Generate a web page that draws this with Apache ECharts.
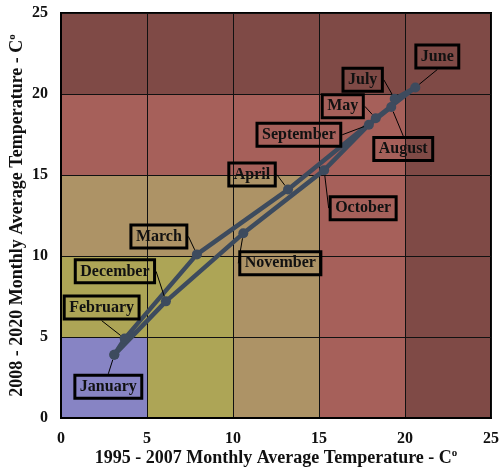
<!DOCTYPE html>
<html>
<head>
<meta charset="utf-8">
<script src="https://cdn.jsdelivr.net/npm/echarts@6/dist/echarts.min.js"></script>
<style>
  html, body { margin: 0; padding: 0; background: #fff; }
  #chart { width: 499px; height: 468px; }
</style>
</head>
<body>
<div id="chart"></div>
<script>
// Monthly average temperatures (°C): 1995-2007 on x, 2008-2020 on y
const months = ['January', 'February', 'March', 'April', 'May', 'June',
                'July', 'August', 'September', 'October', 'November', 'December'];
const temp1995_2007 = [3.1, 3.7, 7.9, 13.2, 18.3, 20.6, 19.4, 19.2, 17.9, 15.3, 10.6, 6.1];
const temp2008_2020 = [3.9, 4.9, 10.1, 14.1, 18.5, 20.4, 19.7, 19.2, 18.1, 15.3, 11.4, 7.2];
const axisTicks = [0, 5, 10, 15, 20, 25];

// Temperature bands: a cell takes the colour of the band holding max(x, y)
const bandLimits = [25, 20, 15, 10, 5];
const bandColors = ['#7f4a46', '#a6605a', '#ad9366', '#ada556', '#8784c4'];

// Callout offsets (px) of each month's label box from its point
const labelOffsets = [
  [-6, 32], [-23, -31], [-38, -18], [-36, -15], [-33, -12], [22, -31],
  [-32, -19], [12, 42], [-70, 10], [39, 38], [37, 30], [-51, -30]
];

const serif = '"Liberation Serif", "Times New Roman", serif';

const points = months.map((m, i) => ({ name: m, value: [temp1995_2007[i], temp2008_2020[i]] }));
// close the yearly loop back to January (no second label)
points.push({ name: '', value: [temp1995_2007[0], temp2008_2020[0]], label: { show: false }, labelLine: { show: false } });

const bandAreas = bandLimits.map((b, i) => [
  { coord: [0, 0], itemStyle: { color: bandColors[i], opacity: 1 } },
  { coord: [b, b] }
]);

const chart = echarts.init(document.getElementById('chart'), null, { renderer: 'canvas' });

const nameStyle = {
  fontFamily: serif, fontWeight: 'bold', fontSize: 18, color: '#111',
  rich: {
    n: { fontFamily: serif, fontWeight: 'bold', fontSize: 18, color: '#111' },
    sup: { fontFamily: serif, fontWeight: 'bold', fontSize: 11, color: '#111', verticalAlign: 'top', padding: [0, 0, 9, 0] }
  }
};

const axisCommon = {
  type: 'value', min: 0, max: 25, interval: 5,
  z: 4,
  nameLocation: 'middle',
  nameMoveOverlap: false,
  nameTextStyle: nameStyle,
  axisLine: { show: true, lineStyle: { color: '#000', width: 2 } },
  axisTick: { show: false },
  axisLabel: { fontFamily: serif, fontWeight: 'bold', fontSize: 16, color: '#111', margin: 13,
               formatter: v => axisTicks.includes(v) ? String(v) : '' },
  splitLine: { show: true, lineStyle: { color: '#111', width: 1 } }
};

chart.setOption({
  animation: false,
  grid: { left: 61, right: 8, top: 13, bottom: 50, containLabel: false, outerBoundsMode: 'none',
          show: true, borderColor: '#000', borderWidth: 2, z: 4 },
  xAxis: Object.assign({}, axisCommon, {
    name: '{n|1995 - 2007 Monthly Average Temperature - C}{sup|o}',
    nameGap: 30
  }),
  yAxis: Object.assign({}, axisCommon, {
    name: '{n|2008 - 2020 Monthly Average Temperature - C}{sup|o}',
    nameGap: 34
  }),
  series: [
    {
      type: 'line',
      data: [],
      silent: true,
      z: 1,
      markArea: { silent: true, data: bandAreas }
    },
    {
      type: 'line',
      data: points,
      z: 6,
      symbol: 'circle',
      symbolSize: 10,
      lineStyle: { color: '#3d4b5e', width: 4.5 },
      itemStyle: { color: '#3d4b5e' },
      label: {
        show: true,
        position: 'inside',
        formatter: p => p.name,
        fontFamily: serif, fontWeight: 'bold', fontSize: 16, color: '#111',
        textBorderWidth: 0,
        borderColor: '#000', borderWidth: 1.5, padding: [4, 5, 3, 5],
        backgroundColor: 'transparent'
      },
      labelLine: { show: true, lineStyle: { color: '#000', width: 1 } },
      labelLayout: p => {
        const o = labelOffsets[p.dataIndex];
        return o ? { dx: o[0], dy: o[1] } : {};
      }
    }
  ]
});
</script>
</body>
</html>
